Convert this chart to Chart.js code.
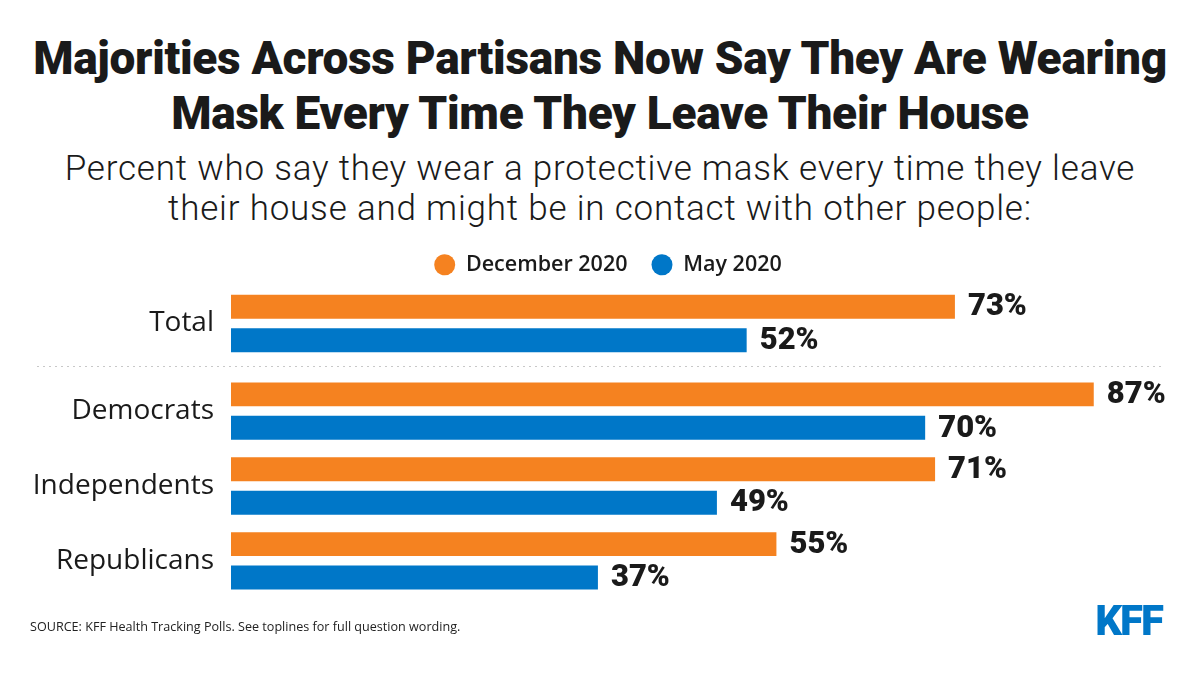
<!DOCTYPE html>
<html lang="en">
<head>
<meta charset="utf-8">
<title>Majorities Across Partisans Now Say They Are Wearing Mask</title>
<script src="https://cdn.jsdelivr.net/npm/chart.js@4.4.1/dist/chart.umd.min.js"></script>
<style>
  html, body {
    margin: 0;
    padding: 0;
    background: #fff;
  }
  .page {
    position: relative;
    width: 1200px;
    height: 673px;
    overflow: hidden;
    color: #1a1a1a;
  }
  .chart-title {
    position: absolute;
    top: 31px;
    left: 0;
    width: 1200px;
    text-align: center;
    font-family: Roboto, sans-serif;
    font-weight: 900;
    font-size: 46px;
    line-height: 55px;
    letter-spacing: -0.3px;
  }
  .chart-subtitle {
    position: absolute;
    top: 149px;
    left: 0;
    width: 1200px;
    text-align: center;
    font-family: Roboto, sans-serif;
    font-weight: 300;
    font-size: 35px;
    line-height: 40px;
    letter-spacing: 0.8px;
  }
  .chart-wrap {
    position: absolute;
    top: 230px;
    left: 0;
    width: 1200px;
    height: 400px;
  }
  .source {
    position: absolute;
    left: 30px;
    top: 618px;
    font-family: "Open Sans", sans-serif;
    font-size: 12.6px;
    color: #222;
  }
  .logo {
    position: absolute;
    right: 38px;
    top: 596px;
    font-family: Roboto, sans-serif;
    font-weight: 900;
    font-size: 42px;
    letter-spacing: -2px;
    color: #0077c8;
  }
</style>
</head>
<body>
<div class="page">
  <div class="chart-title">Majorities Across Partisans Now Say They Are Wearing<br>Mask Every Time They Leave Their House</div>
  <div class="chart-subtitle">Percent who say they wear a protective mask every time they leave<br>their house and might be in contact with other people:</div>
  <div class="chart-wrap"><canvas id="mask-chart"></canvas></div>
  <div class="source">SOURCE: KFF Health Tracking Polls. See toplines for full question wording.</div>
  <div class="logo">KFF</div>
</div>

<script>
const categories = ["Total", "Democrats", "Independents", "Republicans"];
const december2020 = [73, 87, 71, 55];
const may2020 = [52, 70, 49, 37];
const seriesNames = ["December 2020", "May 2020"];

const ORANGE = "#f58220";
const BLUE = "#0077c8";

// Total sits a little apart from the party rows (dotted rule between them)
const rowPos = categories.map((c, i) => i + (i > 0 ? 0.17 : 0));

const toPoints = (values) => values.map((v, i) => ({ x: v, y: rowPos[i] }));

const valueLabels = {
  id: "valueLabels",
  afterDatasetsDraw(chart) {
    const { ctx } = chart;
    ctx.save();
    ctx.font = "900 31px Roboto, sans-serif";
    ctx.fillStyle = "#1a1a1a";
    ctx.textAlign = "left";
    ctx.textBaseline = "middle";
    chart.data.datasets.forEach((ds, di) => {
      chart.getDatasetMeta(di).data.forEach((bar, i) => {
        ctx.fillText(ds.data[i].x + "%", bar.x + 13, bar.y + 1);
      });
    });
    ctx.restore();
  },
};

const separator = {
  id: "separator",
  beforeDatasetsDraw(chart) {
    const { ctx } = chart;
    const y = Math.round(chart.scales.y.getPixelForValue((rowPos[0] + rowPos[1]) / 2)) - 0.5;
    ctx.save();
    ctx.strokeStyle = "#c8c8c8";
    ctx.lineWidth = 1;
    ctx.setLineDash([2, 4]);
    ctx.beginPath();
    ctx.moveTo(37, y);
    ctx.lineTo(1163, y);
    ctx.stroke();
    ctx.restore();
  },
};

new Chart(document.getElementById("mask-chart"), {
  type: "bar",
  data: {
    datasets: [
      {
        label: seriesNames[0],
        data: toPoints(december2020),
        backgroundColor: ORANGE,
        borderWidth: 0,
      },
      {
        label: seriesNames[1],
        data: toPoints(may2020),
        backgroundColor: BLUE,
        borderWidth: 0,
      },
    ],
  },
  options: {
    indexAxis: "y",
    responsive: true,
    maintainAspectRatio: false,
    animation: false,
    categoryPercentage: 0.893,
    barPercentage: 0.716,
    layout: {
      padding: { left: 33, right: 17, top: 0, bottom: 24 },
    },
    plugins: {
      legend: {
        position: "top",
        labels: {
          usePointStyle: true,
          pointStyle: "circle",
          pointStyleWidth: 21,
          boxHeight: 15,
          padding: 24,
          color: "#1a1a1a",
          font: { family: "'Open Sans', sans-serif", size: 21.5, weight: "600" },
        },
      },
      tooltip: { enabled: false },
    },
    scales: {
      x: {
        type: "linear",
        min: 0,
        max: 96,
        display: false,
      },
      y: {
        type: "linear",
        reverse: true,
        offset: false,
        min: -0.507,
        max: 3.773,
        grid: { display: false, drawTicks: false },
        border: { display: false },
        afterBuildTicks: (scale) => {
          scale.ticks = rowPos.map((v) => ({ value: v }));
        },
        afterFit: (scale) => {
          scale.width = 198;
          scale.paddingTop = 0;
          scale.paddingBottom = 0;
        },
        ticks: {
          autoSkip: false,
          padding: 17,
          color: "#1a1a1a",
          font: { family: "'Open Sans', sans-serif", size: 28 },
          callback: (value, index) => categories[index],
        },
      },
    },
  },
  plugins: [valueLabels, separator],
});
</script>
</body>
</html>
